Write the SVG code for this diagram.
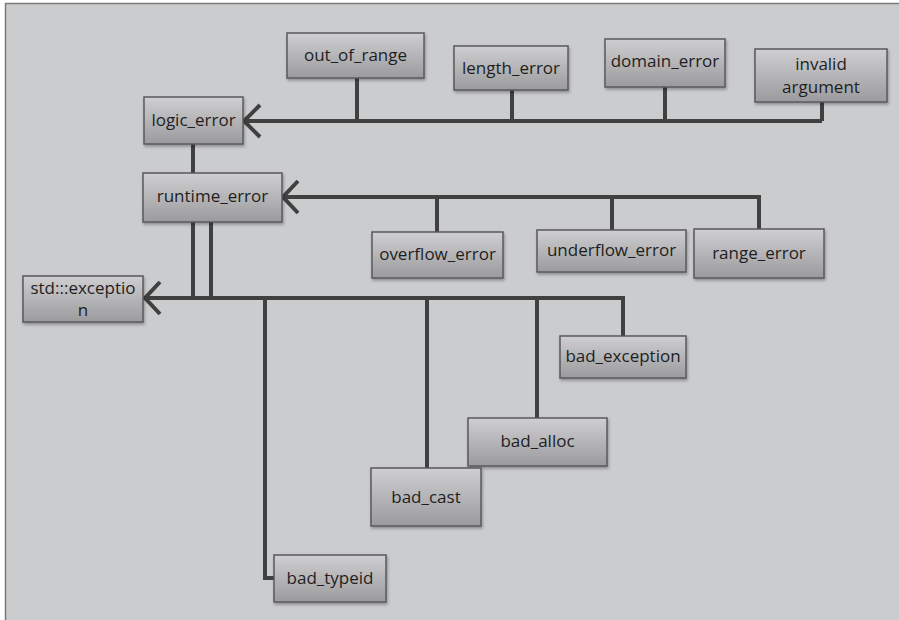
<svg xmlns="http://www.w3.org/2000/svg" width="899" height="620" viewBox="0 0 899 620">
<defs>
<linearGradient id="g" x1="0" y1="0" x2="0" y2="1">
<stop offset="0" stop-color="#cfcfd1"/>
<stop offset="1" stop-color="#9b9b9e"/>
</linearGradient>
<filter id="sh" x="-10%" y="-10%" width="130%" height="140%">
<feDropShadow dx="1" dy="2" stdDeviation="1.5" flood-color="#000" flood-opacity="0.3"/>
</filter>
<style>
.box{fill:url(#g);stroke:#5a5a5c;stroke-width:1.5;filter:url(#sh)}
.t{font-family:"Open Sans","Liberation Sans",sans-serif;font-size:17px;fill:#1e1e1e;text-anchor:middle}
.c{fill:none;stroke:#404040;stroke-width:4;stroke-linejoin:miter}
</style>
</defs>
<rect x="0" y="0" width="899" height="620" fill="#ffffff"/>
<rect x="5.5" y="3.5" width="900" height="620" fill="#cbccce" stroke="#7a7a7c" stroke-width="1.5"/>

<g id="connectors">
<path class="c" d="M243 121H822M357 78V121M512 90V121M665 87V121M822 102V121"/>
<polyline class="c" points="260,105 244,121 260,137"/>
<path class="c" d="M193 144V173"/>
<path class="c" d="M282 197H759V229M437 197V232M612 197V230"/>
<polyline class="c" points="298,181 283,197 298,213"/>
<path class="c" d="M193 222V298M211 222V298"/>
<path class="c" d="M144 298H623V336M265 298V578H274M427 298V468M537 298V418"/>
<polyline class="c" points="160,282 145,298 160,314"/>
</g>

<g id="out_of_range"><rect class="box" x="287" y="33" width="137" height="45"/><text class="t" x="355.5" y="61">out_of_range</text></g>
<g id="length_error"><rect class="box" x="454" y="46" width="114" height="44"/><text class="t" x="511" y="74">length_error</text></g>
<g id="domain_error"><rect class="box" x="605" y="39" width="120" height="48"/><text class="t" x="665" y="67">domain_error</text></g>
<g id="invalid_argument"><rect class="box" x="755" y="49" width="132" height="53"/><text class="t" x="821" y="70">invalid</text><text class="t" x="821" y="93">argument</text></g>
<g id="logic_error"><rect class="box" x="144" y="97" width="99" height="47"/><text class="t" x="193.5" y="126">logic_error</text></g>
<g id="runtime_error"><rect class="box" x="143" y="173" width="139" height="49"/><text class="t" x="212.5" y="202">runtime_error</text></g>
<g id="overflow_error"><rect class="box" x="372" y="232" width="131" height="46"/><text class="t" x="437.5" y="260">overflow_error</text></g>
<g id="underflow_error"><rect class="box" x="537" y="230" width="149" height="42"/><text class="t" x="611.5" y="256">underflow_error</text></g>
<g id="range_error"><rect class="box" x="694" y="229" width="130" height="49"/><text class="t" x="759" y="259">range_error</text></g>
<g id="std_exception"><rect class="box" x="23" y="276" width="120" height="46"/><text class="t" x="83" y="294">std:::exceptio</text><text class="t" x="83" y="316">n</text></g>
<g id="bad_exception"><rect class="box" x="560" y="336" width="126" height="42"/><text class="t" x="623" y="362">bad_exception</text></g>
<g id="bad_alloc"><rect class="box" x="468" y="418" width="139" height="48"/><text class="t" x="537.5" y="447">bad_alloc</text></g>
<g id="bad_cast"><rect class="box" x="371" y="468" width="110" height="58"/><text class="t" x="426" y="503">bad_cast</text></g>
<g id="bad_typeid"><rect class="box" x="274" y="555" width="112" height="47"/><text class="t" x="330" y="584">bad_typeid</text></g>
</svg>
